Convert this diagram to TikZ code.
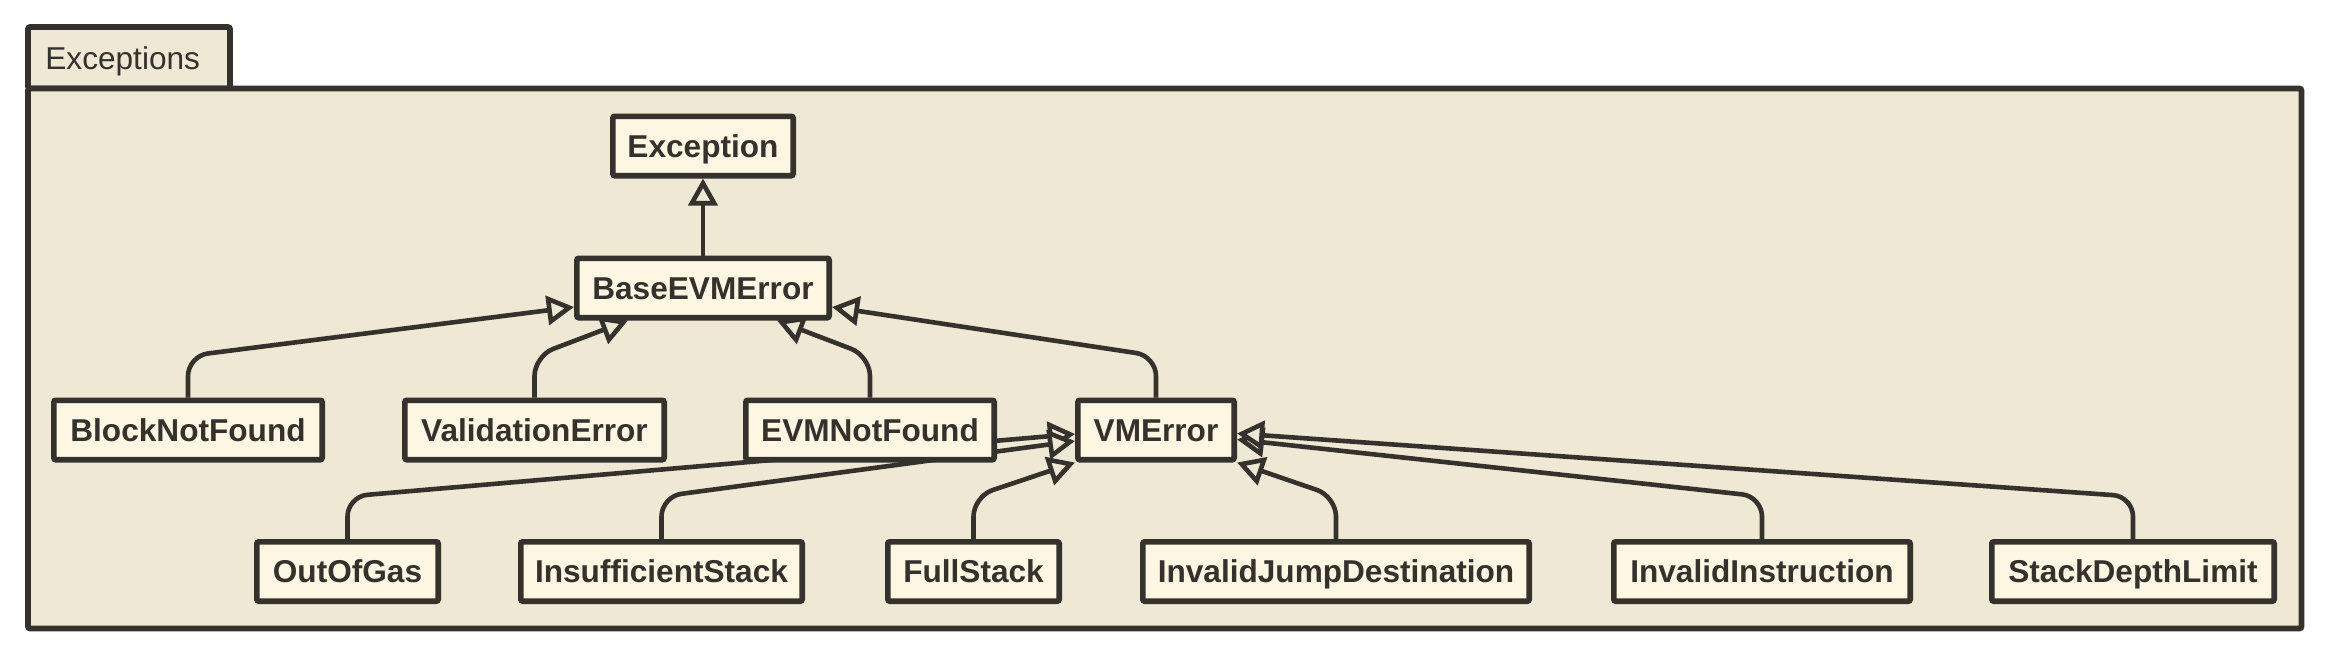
\documentclass[tikz,border=0pt]{standalone}
\usepackage{fontspec}
\setmainfont{Liberation Sans}
\usetikzlibrary{arrows.meta,calc}
\definecolor{framebg}{HTML}{EEE8D5}
\definecolor{boxbg}{HTML}{FDF6E3}
\definecolor{ink}{HTML}{35322D}
\pgfdeclarelayer{back}
\pgfdeclarelayer{edges}
\pgfsetlayers{back,edges,main}
\tikzset{
  cls/.style={draw=ink, fill=boxbg, line width=2.8pt, rounded corners=1pt, inner sep=0pt,
    minimum height=29.7pt, text height=11.3pt, text depth=0pt,
    font=\fontsize{15.8pt}{19pt}\selectfont\bfseries, text=ink},
  gen/.style={draw=ink, line width=2.3pt, rounded corners=10pt,
    -{Triangle[length=13.5pt,width=14.5pt,fill=framebg,sharp]}},
  pkg/.style={draw=ink, line width=2.8pt, fill=framebg, rounded corners=1pt},
}
\begin{document}
\begin{tikzpicture}[x=0.5pt,y=-0.5pt]
\useasboundingbox (0,0) rectangle (2326,654);
% classes
\node[cls, minimum width=90.2pt]  (ex)  at (703,146)   {Exception};
\node[cls, minimum width=126.2pt] (be)  at (703,288)   {BaseEVMError};
\node[cls, minimum width=134.2pt] (bnf) at (188,430)   {BlockNotFound};
\node[cls, minimum width=129.7pt] (ve)  at (534.5,430) {ValidationError};
\node[cls, minimum width=124.2pt] (enf) at (870,430)   {EVMNotFound};
\node[cls, minimum width=78.2pt]  (vm)  at (1156,430)  {VMError};
\node[cls, minimum width=90.7pt]  (oog) at (347.5,571.5) {OutOfGas};
\node[cls, minimum width=140.7pt] (ins) at (661.5,571.5) {InsufficientStack};
\node[cls, minimum width=85.7pt]  (fs)  at (973.5,571.5) {FullStack};
\node[cls, minimum width=193.2pt] (ijd) at (1336,571.5)  {InvalidJumpDestination};
\node[cls, minimum width=148.2pt] (ii)  at (1762,571.5)  {InvalidInstruction};
\node[cls, minimum width=141.2pt] (sdl) at (2133,571.5)  {StackDepthLimit};
\node[anchor=west, inner sep=0pt, text height=11.3pt, text depth=0pt,
  font=\fontsize{15.8pt}{19pt}\selectfont, text=ink] (tab) at (45,58.5) {Exceptions};
% package frame
\begin{pgfonlayer}{back}
\draw[pkg] (28,27) rectangle (230,88.5);
\draw[pkg] (28,88.5) rectangle (2301.5,628.5);
\end{pgfonlayer}
% generalizations
\begin{pgfonlayer}{edges}
\draw[gen] (be.north) -- (ex.south);
\draw[gen] (bnf.north) -- ++(0,-41.5) -- ($(be.west)+(0,19)$);
\draw[gen] (ve.north) -- ++(0,-41.5) -- ($(be.south)+(-75,0)$);
\draw[gen] (enf.north) -- ++(0,-41.5) -- ($(be.south)+(74,0)$);
\draw[gen] (vm.north) -- ++(0,-41.5) -- ($(be.east)+(0,19)$);
\draw[gen] (oog.north) -- ++(0,-42.5) -- ($(vm.west)+(0,4)$);
\draw[gen] (ins.north) -- ++(0,-42.5) -- ($(vm.west)+(0,11)$);
\draw[gen] (fs.north) -- ++(0,-42.5) -- (vm.south west);
\draw[gen] (ijd.north) -- ++(0,-42.5) -- (vm.south east);
\draw[gen] (ii.north) -- ++(0,-42.5) -- ($(vm.east)+(0,9.5)$);
\draw[gen] (sdl.north) -- ++(0,-42.5) -- ($(vm.east)+(0,3.5)$);
\end{pgfonlayer}
\end{tikzpicture}
\end{document}
